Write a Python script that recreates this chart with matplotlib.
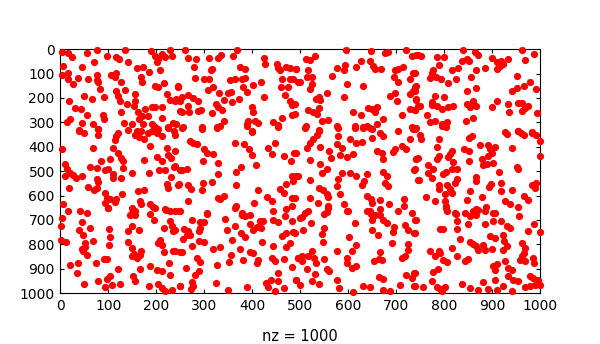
import matplotlib
matplotlib.use("Agg")
import matplotlib.pyplot as plt
import numpy as np

# nonzero positions (column, row), in three horizontal bands
nz_top = [
    (4,11),(17,16),(24,33),(56,15),(77,3),(97,29),(116,33),(123,42),(135,3),(140,53),
    (188,8),(197,26),(204,40),(211,19),(228,5),(232,26),(218,33),(201,53),(71,53),(6,67),
    (45,74),(3,105),(17,98),(17,122),(27,142),(36,119),(57,124),(76,104),(76,126),(79,133),
    (83,163),(105,104),(113,115),(117,98),(126,133),(159,76),(173,74),(168,115),(171,135),(185,94),
    (208,87),(197,149),(204,156),(215,139),(222,183),(246,153),(50,190),(19,211),(67,204),(92,197),
    (117,170),(121,190),(135,167),(124,211),(138,224),(156,183),(156,213),(153,231),(161,258),(176,245),
    (190,238),(197,238),(211,238),(228,208),(239,211),(249,211),(249,252),(31,242),(43,245),(56,269),
    (20,286),(13,300),(45,304),(69,306),(88,269),(92,286),(126,258),(133,302),(150,306),(163,286),
    (171,272),(183,272),(173,306),(190,306),(197,320),(211,282),(235,302),(225,320),(38,331),(79,327),
    (260,5),(267,37),(283,40),(310,35),(329,35),(335,22),(360,26),(369,3),(425,35),(426,60),
    (451,60),(454,76),(458,87),(470,71),(478,76),(491,81),(279,74),(314,87),(317,81),(374,71),
    (385,81),(281,119),(300,122),(310,122),(246,149),(354,128),(364,124),(378,124),(385,119),(381,156),
    (388,176),(402,146),(418,135),(461,122),(478,122),(485,124),(496,135),(460,156),(475,156),(307,167),
    (319,156),(331,180),(349,180),(356,176),(242,204),(253,197),(267,186),(277,200),(286,213),(340,208),
    (357,217),(373,204),(425,197),(468,187),(478,213),(483,228),(265,231),(254,256),(268,258),(286,254),
    (293,249),(317,261),(324,224),(329,238),(336,249),(399,238),(402,258),(483,269),(462,282),(340,293),
    (392,293),(406,295),(388,306),(411,302),(444,299),(454,310),(242,306),(256,320),(295,317),(326,320),
    (333,313),(400,334),
    (595,3),(647,8),(676,15),(682,11),(721,5),(732,26),(742,22),(512,40),(520,46),(531,26),
    (492,81),(515,85),(513,115),(499,135),(524,115),(524,142),(520,163),(576,76),(590,85),(593,63),
    (567,108),(615,71),(626,49),(645,49),(652,67),(656,81),(669,83),(697,87),(704,81),(713,74),
    (696,112),(704,133),(735,98),(728,122),(739,153),(735,170),(728,183),(742,204),(746,231),(598,142),
    (631,152),(556,180),(590,194),(538,197),(532,204),(542,208),(687,190),(697,180),(701,213),(489,224),
    (517,249),(527,258),(538,241),(534,265),(610,258),(626,269),(640,241),(650,245),(659,235),(656,258),
    (673,286),(711,269),(728,245),(739,249),(545,295),(558,290),(511,313),(539,331),(577,313),(614,313),
    (631,320),(638,313),(659,306),(645,323),(732,320),(489,265),
    (746,22),(751,26),(784,30),(800,33),(838,5),(864,12),(871,22),(836,49),(847,40),(851,49),
    (900,35),(909,53),(918,49),(923,60),(932,40),(909,81),(916,67),(962,5),(968,44),(987,19),
    (788,64),(777,85),(774,98),(817,87),(829,76),(867,87),(885,78),(770,119),(782,112),(793,122),
    (808,139),(824,122),(856,115),(951,111),(739,98),(742,149),(739,170),(848,170),(866,160),(942,170),
    (951,160),(965,152),(978,135),(990,163),(781,190),(800,197),(742,208),(749,231),(739,249),(774,217),
    (775,228),(784,231),(796,245),(808,235),(819,234),(847,224),(854,238),(860,213),(867,231),(900,238),
    (910,211),(933,224),(953,222),(962,222),(968,241),(975,231),(961,252),(935,258),(994,263),(763,268),
    (770,300),(781,295),(795,306),(805,297),(845,293),(860,282),(739,327),(926,341),(954,334),(982,341),
]

nz_mid = [
    (38,336),(50,345),(79,329),(79,353),(117,356),(121,345),(114,372),(110,404),(142,331),(159,336),
    (156,353),(164,360),(175,370),(169,336),(183,342),(190,336),(204,329),(201,345),(211,356),(225,322),
    (237,336),(239,353),(4,408),(69,404),(121,424),(126,445),(131,459),(131,486),(104,452),(84,459),
    (187,397),(201,441),(211,459),(223,404),(225,435),(230,448),(239,418),(175,456),(10,472),(13,493),
    (10,520),(20,507),(27,517),(32,527),(45,520),(62,482),(76,489),(93,497),(100,490),(109,513),
    (110,530),(126,530),(150,507),(185,507),(206,497),(218,497),(237,482),(249,496),(230,523),(76,534),
    (79,543),(57,565),(71,578),(76,571),(19,571),(161,582),(175,579),(223,554),(225,571),(246,558),
    (93,589),(97,609),(104,616),(117,616),(114,627),(128,593),(166,623),(169,636),(187,636),(194,647),
    (93,630),(100,650),(6,634),
    (253,322),(295,326),(326,322),(388,315),(400,340),(454,318),(270,377),(277,386),(284,390),(364,386),
    (383,390),(393,408),(400,435),(432,404),(442,431),(447,386),(467,438),(480,459),(487,427),(300,408),
    (305,424),(319,431),(298,459),(328,468),(239,479),(254,497),(263,493),(376,482),(367,504),(408,476),
    (329,513),(248,554),(267,558),(272,575),(298,550),(317,545),(295,578),(365,558),(411,579),(458,575),
    (465,589),(471,554),(482,520),(492,520),(485,541),(329,609),(342,600),(333,616),(267,623),(430,605),
    (442,623),(482,609),(483,643),(403,630),(365,643),
    (510,322),(539,336),(534,353),(520,383),(513,404),(527,370),(541,400),(578,322),(579,356),(576,390),
    (586,404),(604,370),(617,383),(628,381),(614,322),(631,322),(649,329),(666,345),(673,356),(649,363),
    (703,336),(728,370),(735,329),(721,411),(697,408),(712,397),(659,418),(671,424),(673,452),(694,422),
    (742,452),(492,427),(560,418),(564,445),(583,435),(597,441),(610,431),(520,456),(541,472),(555,493),
    (545,509),(496,520),(520,537),(586,507),(579,534),(576,561),(604,507),(615,520),(638,513),(633,541),
    (628,558),(673,504),(680,520),(676,548),(683,561),(737,497),(489,609),(520,609),(538,568),(548,578),
    (555,595),(558,606),(536,632),(558,641),(583,595),(592,636),(638,602),(647,616),(649,632),(666,619),
    (685,636),(715,613),(715,643),(746,537),
    (742,322),(795,315),(803,319),(749,353),(751,370),(789,370),(851,363),(857,356),(930,349),(954,336),
    (960,345),(967,353),(982,342),(990,353),(999,377),(999,438),(942,404),(874,394),(890,394),(895,411),
    (906,400),(900,424),(892,438),(784,400),(840,411),(851,418),(815,418),(812,431),(807,441),(788,438),
    (784,449),(742,452),(746,445),(739,493),(819,463),(851,459),(878,452),(881,476),(902,468),(888,470),
    (951,482),(954,490),(767,476),(777,490),(826,490),(817,493),(804,504),(798,513),(765,509),(775,530),
    (748,537),(913,504),(867,523),(867,541),(826,534),(822,550),(789,558),(788,575),(805,558),(812,575),
    (817,589),(801,595),(854,582),(897,554),(893,564),(918,548),(918,582),(942,579),(982,558),(992,548),
    (989,568),(762,606),(781,623),(801,623),(803,643),(847,619),(878,606),(886,647),(867,654),(926,623),
    (937,636),(954,647),(965,602),(975,619),
]

nz_bot = [
    (15,664),(41,664),(55,671),(149,650),(156,664),(218,657),(228,664),(239,664),
    (247,664),(305,673),(378,673),(444,664),(471,657),
    (555,668),(597,664),(645,664),(666,657),(703,664),(732,673),
    (805,664),(860,664),(843,673),(822,673),(906,673),
    (100,651),(149,672),(152,658),(145,681),(156,678),(187,676),(197,651),(221,658),(249,662),(3,692),
    (1,726),(45,708),(38,740),(48,763),(62,733),(102,736),(104,771),(140,747),(149,726),(164,740),
    (196,699),(215,733),(228,703),(233,726),(235,744),(1,781),(11,791),(51,795),(69,788),(102,804),
    (46,818),(51,812),(55,845),(48,829),(140,792),(150,815),(154,838),(159,856),(149,849),(168,826),
    (166,843),(208,781),(204,795),(211,804),(215,833),(235,826),(249,833),(20,886),(36,877),(34,918),
    (74,877),(90,859),(97,859),(121,901),(166,900),(187,890),(201,904),(211,908),(226,877),(228,925),
    (152,929),(156,952),(104,931),(97,942),(79,952),(50,963),(93,977),(107,966),(124,962),(185,972),
    (204,963),(211,979),(218,993),(232,986),(249,972),
    (306,676),(364,651),(378,678),(385,685),(395,681),(468,685),(482,703),(499,692),(274,699),
    (291,708),(300,708),(239,743),(258,736),(267,747),(263,763),(256,777),(270,760),(288,747),(291,733),
    (288,785),(300,791),(275,808),(344,695),(363,726),(347,740),(376,754),(385,771),(395,717),(402,740),
    (409,730),(416,706),(423,706),(419,733),(444,699),(454,708),(461,767),(471,754),(485,749),(478,795),
    (470,812),(357,784),(421,791),(444,808),(319,818),(333,812),(253,832),(239,826),(355,845),(374,818),
    (395,832),(402,836),(381,866),(351,873),(409,877),(411,863),(440,856),(447,870),(465,860),(496,856),
    (284,856),(291,873),(262,897),(327,884),(288,908),(281,925),(274,955),(277,972),(272,983),(249,972),
    (324,959),(349,986),(388,977),(428,959),(433,977),(439,945),(454,949),(454,918),(465,979),(447,993),
    (482,894),(492,945),(499,968),
    (503,689),(510,672),(515,662),(550,676),(558,651),(600,662),(638,665),(647,676),(650,699),(656,681),
    (666,678),(673,699),(680,713),(739,699),(522,713),(506,743),(489,754),(545,758),(550,733),
    (548,791),(614,713),(649,743),(661,760),(696,730),(694,749),(719,722),(725,740),(737,754),(601,771),
    (617,801),(608,829),(576,829),(690,795),(725,799),(725,822),(718,849),(711,856),(496,856),(504,870),
    (503,849),(517,849),(525,829),(529,856),(532,877),(550,859),(597,856),(597,877),(608,897),(617,890),
    (653,870),(664,859),(671,863),(666,832),(513,900),(531,921),(555,901),(560,911),(576,945),(581,979),
    (610,996),(631,970),(645,977),(664,934),(673,942),(673,986),(687,990),(708,966),(721,927),(732,938),
    (737,918),(737,972),(492,945),(524,949),(539,962),
    (803,651),(824,676),(854,685),(864,672),(871,658),(867,678),(885,665),(902,672),(902,703),
    (885,717),(850,717),(826,736),(798,736),(791,736),(826,703),(919,703),(930,726),(937,733),(956,685),
    (987,717),(999,749),(974,747),(742,699),(739,754),(833,777),(854,791),(860,799),(867,808),(871,822),
    (885,822),(881,804),(899,818),(895,767),(906,774),(923,763),(925,788),(923,822),(930,808),(961,795),
    (968,815),(967,836),(961,849),(958,863),(968,870),(985,856),(987,877),(770,829),(788,826),(791,836),
    (781,849),(798,863),(805,873),(817,815),(826,849),(843,870),(850,859),(739,918),(777,914),(786,900),
    (774,949),(909,881),(902,890),(906,904),(906,945),(926,867),(933,897),(940,904),(933,931),(944,945),
    (978,929),(985,938),(996,945),(999,966),(978,972),(968,977),(756,975),(739,972),(784,975),(791,982),
    (801,977),(795,993),(836,963),(854,979),(871,986),(881,955),(892,982),(909,986),(923,972),(940,993),
    (954,952),(989,966),
]

x_ticks = list(range(0, 1001, 100))
y_ticks = list(range(0, 1001, 100))
nz_label = "nz = 1000"

pts = np.array(nz_top + nz_mid + nz_bot)

plt.rcParams.update({'font.family': 'DejaVu Sans', 'font.size': 10})
fig = plt.figure(figsize=(6.0, 3.44), dpi=100)
ax = fig.add_axes([0.1005, 0.148, 0.80, 0.709])

ax.plot(pts[:, 0], pts[:, 1], 'o', color='#ff0000', markersize=5.2,
        markeredgewidth=0, clip_on=False, zorder=3)

ax.set_xlim(0, 1000)
ax.set_ylim(1000, 0)
ax.set_xticks(x_ticks)
ax.set_yticks(y_ticks)
ax.tick_params(direction='in', length=3, width=0.8, top=True, right=True,
               labelsize=10, pad=4)
for s in ax.spines.values():
    s.set_linewidth(0.8)
ax.set_xlabel(nz_label, fontsize=10.5, labelpad=12)

fig.savefig("out.png", dpi=100)
